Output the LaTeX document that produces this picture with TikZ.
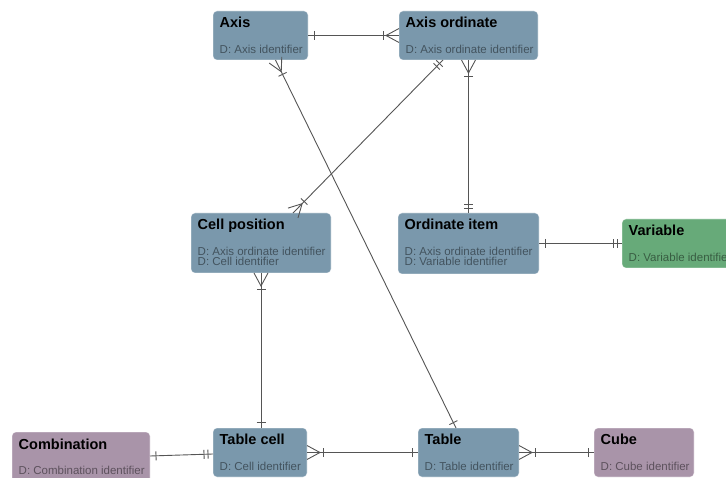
\documentclass[tikz,border=0pt]{standalone}
\usepackage{fontspec}
\setmainfont{Liberation Sans}
\usetikzlibrary{calc}

\definecolor{entblue}{RGB}{122,152,172}
\definecolor{entgreen}{RGB}{103,170,121}
\definecolor{entpurple}{RGB}{169,148,169}
\definecolor{relgray}{RGB}{85,85,85}

\tikzset{
  entbox/.style={rectangle, rounded corners=4pt, draw=white, draw opacity=0.5,
    line width=0.6pt, inner sep=0pt, outer sep=0pt, anchor=north west},
  enttitle/.style={anchor=base west, inner sep=0pt,
    font=\fontsize{14.5}{16}\selectfont\bfseries, text=black},
  entattr/.style={anchor=base west, inner sep=0pt,
    font=\fontsize{11.5}{12}\selectfont, text=black, text opacity=0.45},
  relline/.style={draw=relgray, line width=0.9pt},
}

% crow's-foot end markers: #1 is the end at the entity, #2 the far end
\newcommand\mkOne[2]{%
  \draw[relline] ($(#1)!6pt!(#2)!4.5pt!90:(#2)$) -- ($(#1)!6pt!(#2)!4.5pt!-90:(#2)$);}
\newcommand\mkOneOnly[2]{%
  \draw[relline] ($(#1)!5pt!(#2)!4.5pt!90:(#2)$) -- ($(#1)!5pt!(#2)!4.5pt!-90:(#2)$);
  \draw[relline] ($(#1)!9pt!(#2)!4.5pt!90:(#2)$) -- ($(#1)!9pt!(#2)!4.5pt!-90:(#2)$);}
\newcommand\mkMany[2]{%
  \draw[relline] ($(#1)!7pt!90:(#2)$) -- ($(#1)!13pt!(#2)$) -- ($(#1)!7pt!-90:(#2)$);
  \draw[relline] ($(#1)!16pt!(#2)!4.5pt!90:(#2)$) -- ($(#1)!16pt!(#2)!4.5pt!-90:(#2)$);}
% relationship line with its two end markers
\newcommand\relate[4]{%
  \draw[relline] (#1) -- (#2);
  \csname mk#3\endcsname{#1}{#2}%
  \csname mk#4\endcsname{#2}{#1}}

\begin{document}
\begin{tikzpicture}[x=1pt,y=-1pt]
\useasboundingbox (0,0) rectangle (726,478);
\clip (0,0) rectangle (726,478);

% entities
\node[entbox, fill=entblue, minimum width=95pt, minimum height=49pt] (axis) at (213,11) {};
\node[entbox, fill=entblue, minimum width=139pt, minimum height=49pt] (axord) at (399,11) {};
\node[entbox, fill=entblue, minimum width=140pt, minimum height=60pt] (cellpos) at (191,213) {};
\node[entbox, fill=entblue, minimum width=141pt, minimum height=61pt] (orditem) at (398,213) {};
\node[entbox, fill=entgreen, minimum width=140pt, minimum height=49pt] (variable) at (622,219) {};
\node[entbox, fill=entpurple, minimum width=138pt, minimum height=50pt] (comb) at (12,432) {};
\node[entbox, fill=entblue, minimum width=94pt, minimum height=49pt] (tcell) at (213,428) {};
\node[entbox, fill=entblue, minimum width=101pt, minimum height=49pt] (table) at (418,428) {};
\node[entbox, fill=entpurple, minimum width=100pt, minimum height=49pt] (cube) at (594,428) {};

% titles and attributes
\node[enttitle] (axisT) at ([shift={(6.5,17)}]axis.north west) {Axis};
\node[entattr] (axisA) at ([shift={(6.5,-6)}]axis.south west) {D: Axis identifier};

\node[enttitle] (axordT) at ([shift={(6.5,17)}]axord.north west) {Axis ordinate};
\node[entattr] (axordA) at ([shift={(6.5,-6)}]axord.south west) {D: Axis ordinate identifier};

\node[enttitle] (cellposT) at ([shift={(6.5,17)}]cellpos.north west) {Cell position};
\node[entattr] (cellposA) at ([shift={(6.5,-17)}]cellpos.south west) {D: Axis ordinate identifier};
\node[entattr] (cellposB) at ([shift={(6.5,-7)}]cellpos.south west) {D: Cell identifier};

\node[enttitle] (orditemT) at ([shift={(6.5,17)}]orditem.north west) {Ordinate item};
\node[entattr] (orditemA) at ([shift={(6.5,-18)}]orditem.south west) {D: Axis ordinate identifier};
\node[entattr] (orditemB) at ([shift={(6.5,-8)}]orditem.south west) {D: Variable identifier};

\node[enttitle] (variableT) at ([shift={(6.5,17)}]variable.north west) {Variable};
\node[entattr] (variableA) at ([shift={(6.5,-6)}]variable.south west) {D: Variable identifier};

\node[enttitle] (combT) at ([shift={(6.5,17)}]comb.north west) {Combination};
\node[entattr] (combA) at ([shift={(6.5,-8)}]comb.south west) {D: Combination identifier};

\node[enttitle] (tcellT) at ([shift={(6.5,16)}]tcell.north west) {Table cell};
\node[entattr] (tcellA) at ([shift={(6.5,-7)}]tcell.south west) {D: Cell identifier};

\node[enttitle] (tableT) at ([shift={(6.5,16)}]table.north west) {Table};
\node[entattr] (tableA) at ([shift={(6.5,-7)}]table.south west) {D: Table identifier};

\node[enttitle] (cubeT) at ([shift={(6.5,16)}]cube.north west) {Cube};
\node[entattr] (cubeA) at ([shift={(6.5,-7)}]cube.south west) {D: Cube identifier};

% connection points on the entity borders
\coordinate (axisS) at ([xshift=15pt]axis.south);
\coordinate (tableN) at ([xshift=-12.5pt]table.north);
\coordinate (axordSW) at ([xshift=-25.5pt]axord.south);
\coordinate (cellposNE) at ([xshift=32pt]cellpos.north);
\coordinate (tcellN) at ([xshift=1pt]tcell.north);
\coordinate (combE) at ([yshift=1pt]comb.east);
\coordinate (tcellW) at ([yshift=-1.5pt]tcell.west);

% relationships
\relate{axis.east}{axord.west}{One}{Many}
\relate{axisS}{tableN}{Many}{One}
\relate{axordSW}{cellposNE}{OneOnly}{Many}
\relate{axord.south}{orditem.north}{Many}{OneOnly}
\relate{cellpos.south}{tcellN}{Many}{One}
\relate{orditem.east}{variable.west}{One}{OneOnly}
\relate{combE}{tcellW}{One}{OneOnly}
\relate{tcell.east}{table.west}{Many}{One}
\relate{table.east}{cube.west}{Many}{One}
\end{tikzpicture}
\end{document}
